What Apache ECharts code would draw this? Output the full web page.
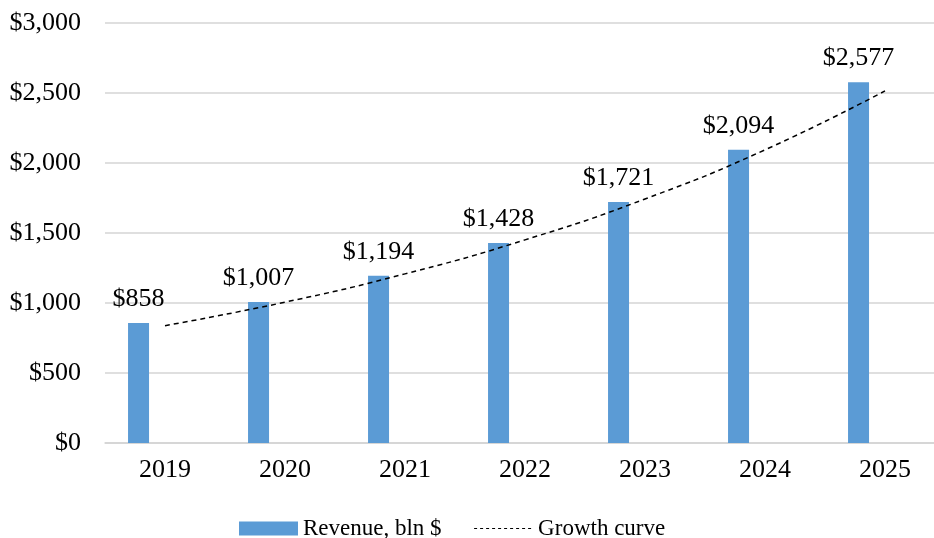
<!DOCTYPE html>
<html>
<head>
<meta charset="utf-8">
<style>
  html, body { margin: 0; padding: 0; background: #fff; }
  #chart { width: 934px; height: 538px; }
</style>
<script src="https://cdn.jsdelivr.net/npm/echarts@6/dist/echarts.min.js"></script>
</head>
<body>
<div id="chart"></div>
<script>
var years = ['2019', '2020', '2021', '2022', '2023', '2024', '2025'];
var revenue = [858, 1007, 1194, 1428, 1721, 2094, 2577];
var growthCurve = [838, 1006, 1208, 1451, 1743, 2094, 2515];
var yTicks = [0, 500, 1000, 1500, 2000, 2500, 3000];

var serif = '"Liberation Serif", "Times New Roman", serif';
var myChart = echarts.init(document.getElementById('chart'));

function money(v) {
    return '$' + v.toLocaleString('en-US');
}

myChart.setOption({
    animation: false,
    textStyle: { fontFamily: serif },
    grid: { left: 105, right: -11, top: 23, bottom: 95, outerBoundsMode: 'none' },
    legend: {
        data: [
            { name: 'Revenue, bln $', icon: 'rect' },
            { name: 'Growth curve', itemStyle: { opacity: 0 }, lineStyle: { type: [3, 3], width: 1 } }
        ],
        left: 234,
        top: 512,
        itemWidth: 59,
        itemHeight: 14,
        itemGap: 32,
        textStyle: { fontFamily: serif, fontSize: 23, color: '#000' }
    },
    xAxis: {
        type: 'category',
        data: years,
        axisLine: { lineStyle: { color: '#d4d4d4', width: 1.5 } },
        axisTick: { show: false },
        axisLabel: { fontFamily: serif, fontSize: 26, color: '#000', margin: 14 }
    },
    yAxis: {
        type: 'value',
        min: yTicks[0],
        max: yTicks[yTicks.length - 1],
        interval: 500,
        axisLine: { show: false },
        axisTick: { show: false },
        splitLine: { lineStyle: { color: '#d4d4d4', width: 1.5 } },
        axisLabel: {
            fontFamily: serif, fontSize: 26, color: '#000', margin: 24,
            formatter: function (v) { return money(v); }
        }
    },
    series: [
        {
            name: 'Revenue, bln $',
            type: 'bar',
            data: revenue,
            barWidth: 21,
            barGap: '152%',
            itemStyle: { color: '#5b9bd5' },
            label: {
                show: true,
                position: 'top',
                distance: 11,
                fontFamily: serif,
                fontSize: 26,
                color: '#000',
                formatter: function (p) { return money(p.value); }
            }
        },
        {
            name: 'placeholder',
            type: 'bar',
            data: years.map(function () { return '-'; }),
            barWidth: 21,
            silent: true
        },
        {
            name: 'Growth curve',
            type: 'line',
            data: growthCurve,
            smooth: true,
            symbol: 'none',
            z: 5,
            lineStyle: { color: '#000', width: 1.5, type: [5, 4] },
            itemStyle: { color: '#000' }
        }
    ]
});
</script>
</body>
</html>
